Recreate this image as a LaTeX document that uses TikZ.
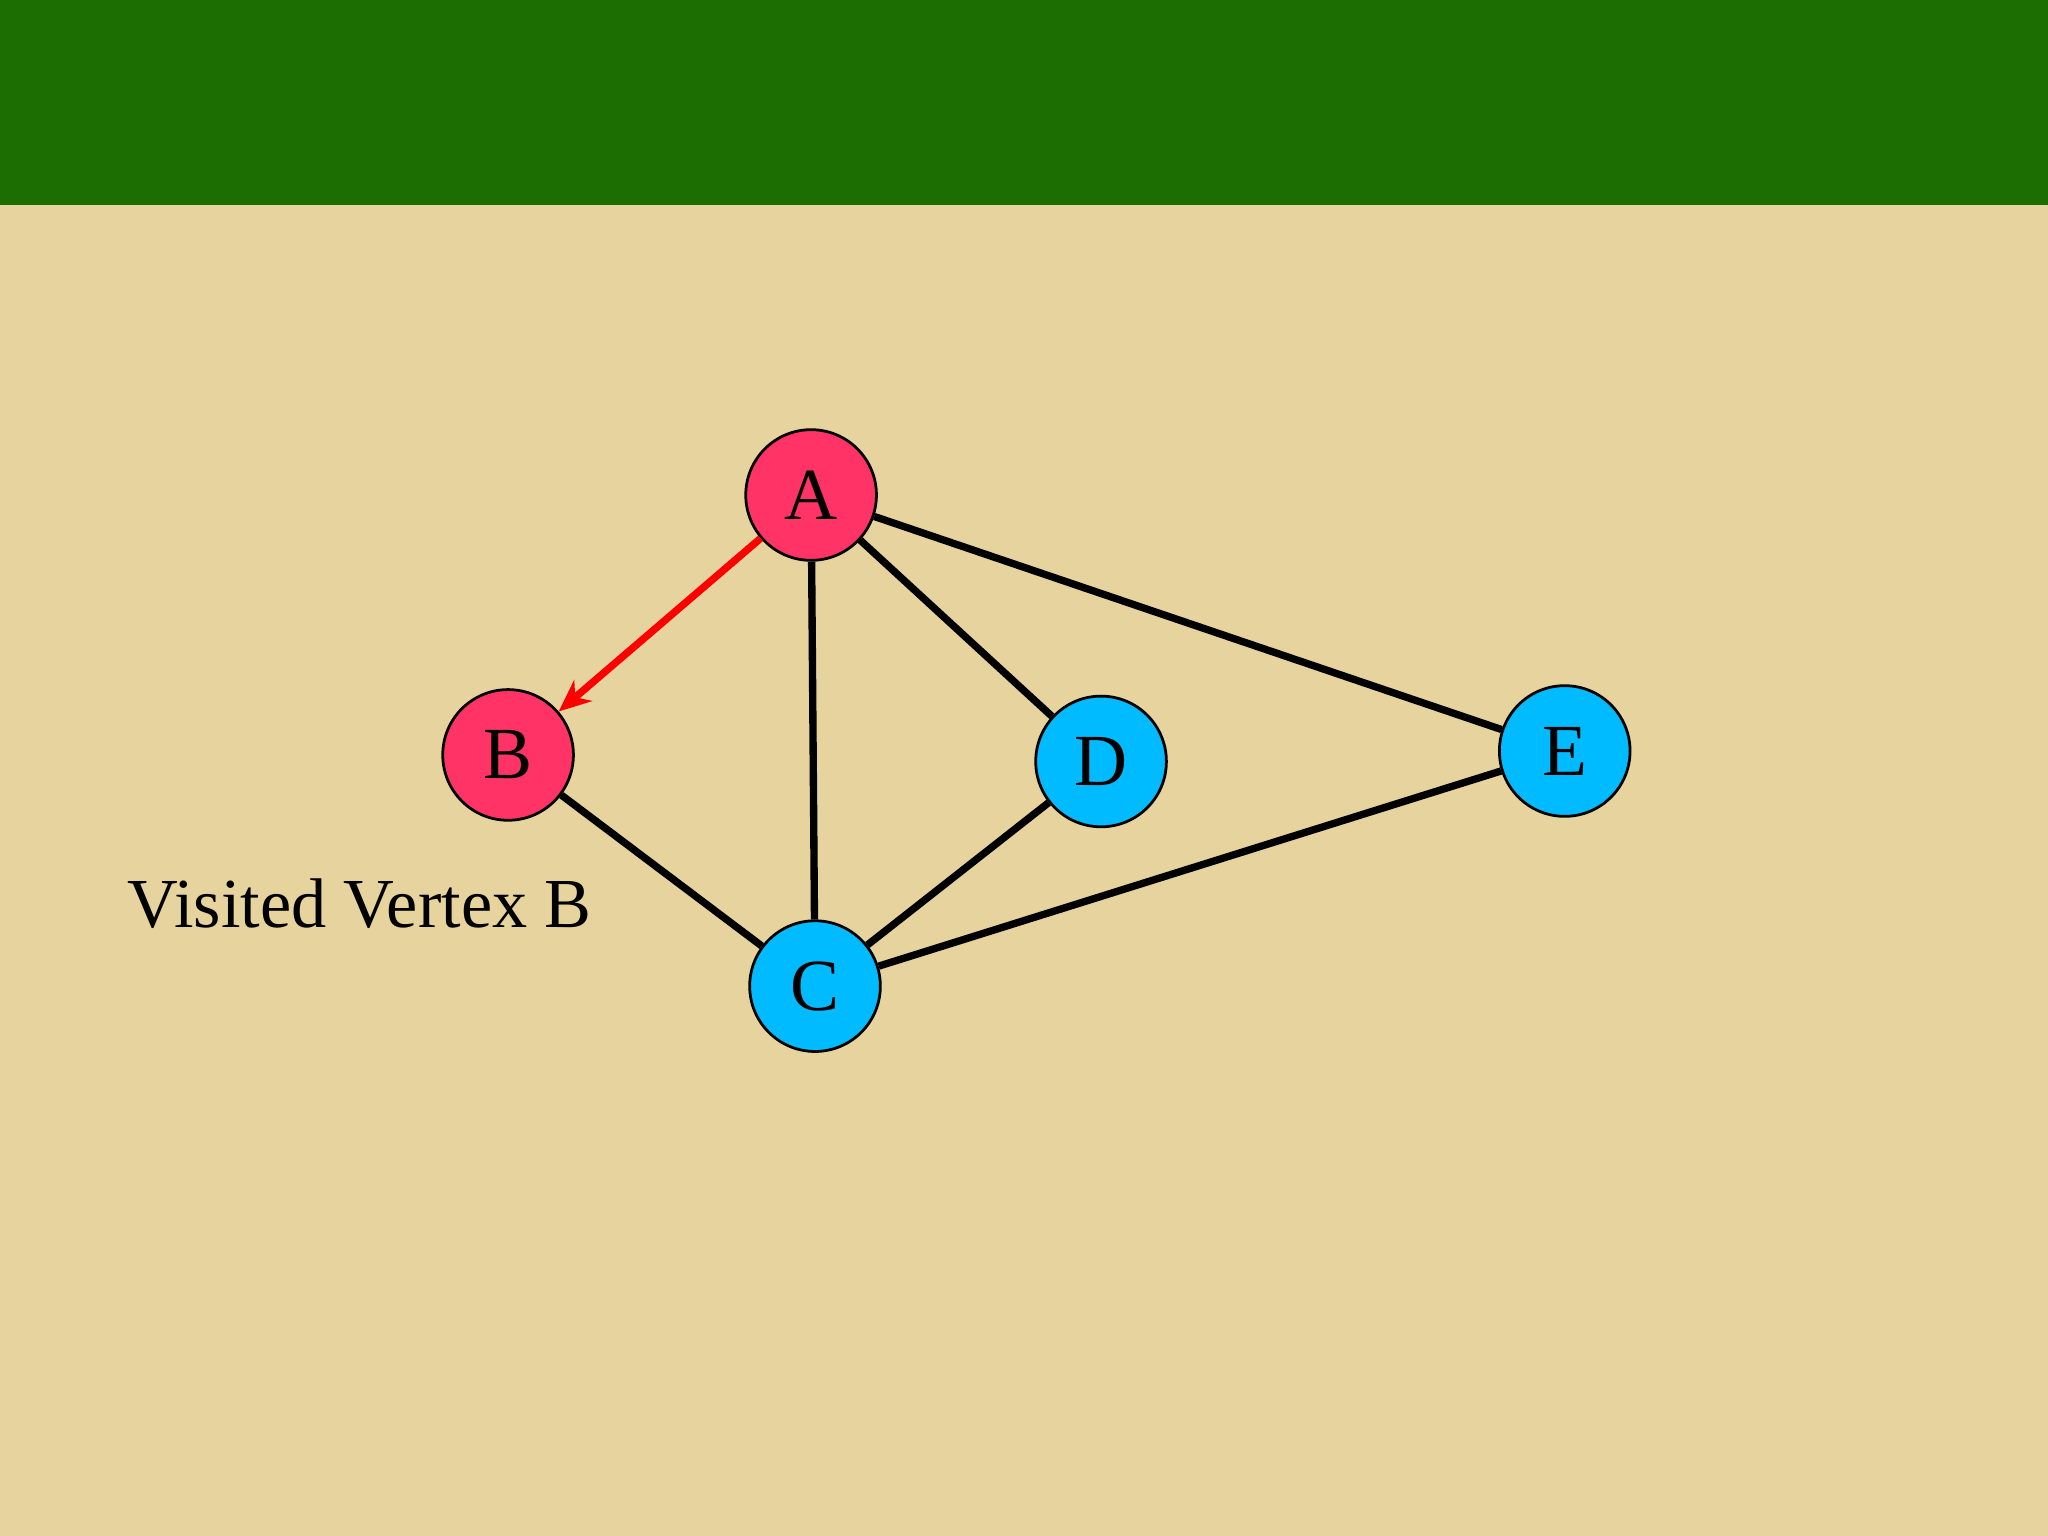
\documentclass[tikz,border=0pt]{standalone}
\usepackage{fontspec}
\setmainfont{Liberation Serif}
\usetikzlibrary{arrows.meta}
\definecolor{bg}{HTML}{E6D39D}
\definecolor{band}{HTML}{1D6E02}
\definecolor{pinkv}{HTML}{FF3366}
\definecolor{bluev}{HTML}{00BBFF}
\tikzset{vert/.style={circle,draw=black,line width=0.6pt,minimum size=1cm,inner sep=0pt,font=\fontsize{16}{18}\selectfont},
edge/.style={line width=1.6pt,black},
visit/.style={line width=1.6pt,red,-{Stealth[length=7pt,width=6pt]}}}
\begin{document}
\begin{tikzpicture}[x=0.01cm,y=-0.01cm]
\fill[bg] (0,0) rectangle (1568,1176);
\fill[band] (0,0) rectangle (1568,157);
\useasboundingbox (0,0) rectangle (1568,1176);
\node[vert,fill=pinkv] (A) at (621,379) {A};
\node[vert,fill=pinkv] (B) at (389,578) {B};
\node[vert,fill=bluev] (D) at (843,583) {D};
\node[vert,fill=bluev] (E) at (1198,575) {E};
\node[vert,fill=bluev] (C) at (624,755) {C};
\draw[visit] (A) -- (B);
\draw[edge] (A) -- (C);
\draw[edge] (A) -- (D);
\draw[edge] (A) -- (E);
\draw[edge] (B) -- (C);
\draw[edge] (D) -- (C);
\draw[edge] (E) -- (C);
\node[anchor=base west,inner sep=0pt,font=\fontsize{15.3}{18}\selectfont] (lbl) at (97,710) {Visited Vertex B};
\end{tikzpicture}
\end{document}
